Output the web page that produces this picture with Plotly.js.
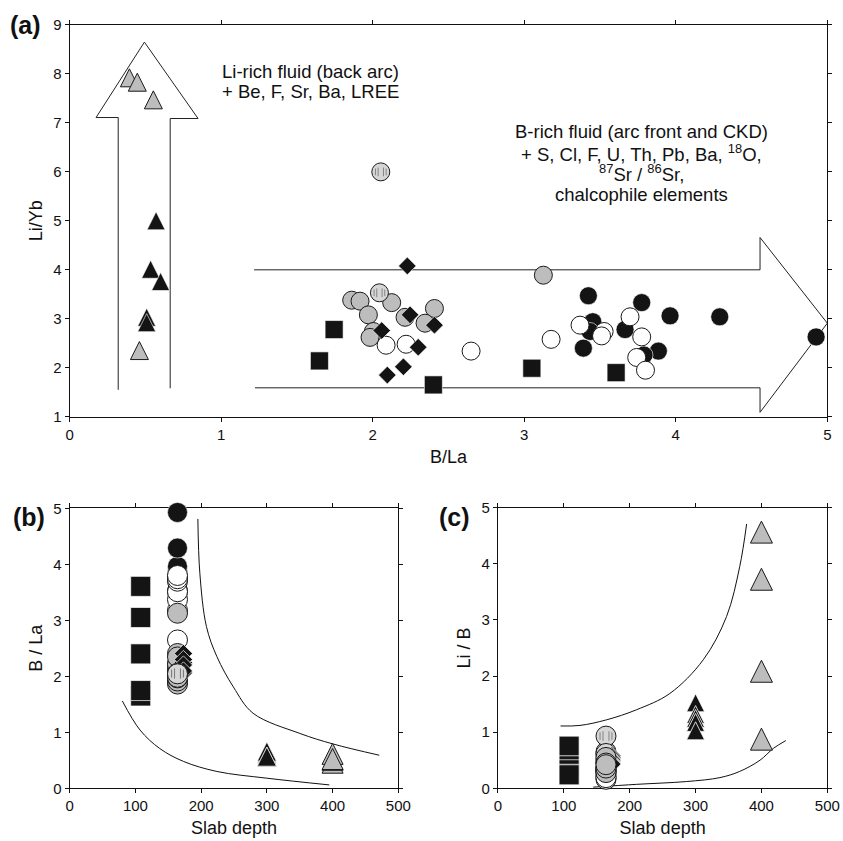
<!DOCTYPE html>
<html><head><meta charset="utf-8">
<script src="https://cdn.plot.ly/plotly-3.0.1.min.js"></script>
<style>html,body{margin:0;padding:0;background:#fff}#chart{width:843px;height:841px}</style>
</head><body><div id="chart"></div>
<script>
// ---------------- data ----------------
// squares
const sqBLa   = [1.648, 1.745, 2.40, 3.05, 3.606];
const sqLiYb  = [2.14, 2.78, 1.65, 1.99, 1.90];
const sqDepth = [108, 108, 108, 108, 108];
const sqLiB   = [0.75, 0.40, 0.33, 0.25, 0.24];
// black circles
const bcBLa   = [3.423, 3.452, 3.434, 3.39, 3.775, 3.665, 3.885, 3.962, 4.29, 4.926, 3.79];
const bcLiYb  = [3.47, 2.94, 2.74, 2.40, 3.33, 2.78, 2.34, 3.06, 3.04, 2.63, 2.26];
const bcDepth = [164, 164, 164, 164, 164, 164, 164, 164, 164, 164, 164];
const bcLiB   = [0.22, 0.25, 0.28, 0.30, 0.26, 0.33, 0.24, 0.29, 0.31, 0.27, 0.23];
// white circles
const wcBLa   = [2.088, 2.22, 2.649, 3.177, 3.368, 3.527, 3.51, 3.698, 3.775, 3.742, 3.80];
const wcLiYb  = [2.46, 2.48, 2.34, 2.58, 2.87, 2.74, 2.65, 3.04, 2.63, 2.21, 1.95];
const wcDepth = [164, 164, 164, 164, 164, 164, 164, 164, 164, 164, 164];
const wcLiB   = [0.16, 0.20, 0.24, 0.28, 0.32, 0.36, 0.45, 0.52, 0.60, 0.65, 0.19];
// grey circles
const gcBLa   = [1.861, 1.916, 1.971, 2.125, 2.213, 2.407, 2.345, 2.004, 1.982, 3.126];
const gcLiYb  = [3.38, 3.36, 3.08, 3.33, 3.03, 3.21, 2.91, 2.74, 2.62, 3.89];
const gcDepth = [164, 164, 164, 164, 164, 164, 164, 164, 164, 164];
const gcLiB   = [0.30, 0.35, 0.48, 0.55, 0.38, 0.32, 0.45, 0.28, 0.36, 0.42];
// hatched circles
const hcBLa   = [2.053, 2.044];
const hcLiYb  = [6.00, 3.53];
const hcDepth = [164, 164];
const hcLiB   = [0.93, 0.62];
// diamonds
const dmBLa   = [2.228, 2.246, 2.407, 2.059, 2.30, 2.202, 2.096];
const dmLiYb  = [4.08, 3.08, 2.87, 2.76, 2.42, 2.02, 1.85];
const dmDepth = [173, 173, 173, 173, 173, 173, 173];
const dmLiB   = [0.58, 0.55, 0.52, 0.50, 0.47, 0.45, 0.43];
// black triangles
const btBLa   = [0.57, 0.534, 0.60, 0.508, 0.508];
const btLiYb  = [4.94, 3.95, 3.70, 2.97, 2.86];
const btDepth = [300, 300, 300, 300, 300];
const btLiB   = [1.47, 1.26, 1.19, 1.12, 0.97];
// grey triangles
const gtBLa   = [0.394, 0.446, 0.552, 0.46];
const gtLiYb  = [7.86, 7.77, 7.41, 2.29];
const gtDepth = [400, 400, 400, 400];
const gtLiB   = [4.50, 3.66, 2.02, 0.81];

// arrows in panel (a)
const vArrowX = [0.32, 0.32, 0.174, 0.493, 0.847, 0.663, 0.663];
const vArrowY = [1.55, 7.11, 7.11, 8.65, 7.09, 7.09, 1.58];
const hArrowX = [1.217, 4.556, 4.556, 5.0, 4.556, 4.556, 1.223];
const hArrowY = [4.0, 4.0, 4.66, 2.91, 1.09, 1.59, 1.59];

// envelope curves
const bUpX = [195, 198, 208, 224, 249, 279, 350, 401, 471];
const bUpY = [4.81, 3.84, 2.89, 2.35, 1.81, 1.34, 0.98, 0.79, 0.59];
const bLoX = [80, 107, 137, 173, 224, 300, 395];
const bLoY = [1.56, 1.04, 0.71, 0.48, 0.30, 0.18, 0.06];
const cUpX = [95, 124.5, 165, 210.5, 261, 311.7, 347, 367, 377.5];
const cUpY = [1.11, 1.12, 1.22, 1.40, 1.69, 2.29, 3.06, 3.95, 4.71];
const cLoX = [144.7, 210.5, 286.5, 337, 367, 397.8, 418, 437];
const cLoY = [0.02, 0.07, 0.12, 0.19, 0.30, 0.50, 0.71, 0.85];

// ---------------- styles ----------------
const BLACK = '#141414', GREY = '#bdbdbd', EDGE = '#1a1a1a';
const traces = [];
function pts(x, y, xa, ya, symbol, size, fill, lineColor, lineW) {
  traces.push({type:'scatter', mode:'markers', x:x, y:y, xaxis:xa, yaxis:ya, cliponaxis:false,
    hoverinfo:'skip',
    marker:{symbol:symbol, size:size, color:fill, line:{color:lineColor, width:lineW}}});
}
function tri(x, y, xa, ya, size, fill, lineColor, lineW) {
  traces.push({type:'scatter', mode:'markers', x:x, y:y, xaxis:xa, yaxis:ya, cliponaxis:false,
    hoverinfo:'skip',
    marker:{symbol:'arrow-down', angle:180, standoff:size*2/3, size:size, color:fill,
            line:{color:lineColor, width:lineW}}});
}
function stripes(x, y, xa, ya, d) {
  // vertical hatching on the striped circles
  const specs = [[-d*0.33, d*0.97], [d*0.33, d*0.97], [-d*0.66, d*0.75], [d*0.66, d*0.75]];
  specs.forEach(function(s){
    traces.push({type:'scatter', mode:'markers', x:x, y:y, xaxis:xa, yaxis:ya, cliponaxis:false,
      hoverinfo:'skip',
      marker:{symbol:'line-ew', angle:(s[0] < 0 ? -90 : 90), standoff:Math.abs(s[0]) * 0.9,
              size:s[1]/1.4, color:'#7a7a7a', line:{color:'#7a7a7a', width:0.9}}});
  });
}
function curve(x, y, xa, ya) {
  traces.push({type:'scatter', mode:'lines', x:x, y:y, xaxis:xa, yaxis:ya, hoverinfo:'skip', cliponaxis:false,
    line:{color:'#111', width:1, shape:'spline', smoothing:1}});
}

// panel (a)
traces.push({type:'scatter', mode:'lines', x:vArrowX, y:vArrowY, xaxis:'x', yaxis:'y', hoverinfo:'skip', cliponaxis:false, line:{color:'#222', width:1}});
traces.push({type:'scatter', mode:'lines', x:hArrowX, y:hArrowY, xaxis:'x', yaxis:'y', hoverinfo:'skip', cliponaxis:false, line:{color:'#222', width:1}});
pts(bcBLa, bcLiYb, 'x', 'y', 'circle', 18, BLACK, '#ffffff', 0.6);
pts(wcBLa, wcLiYb, 'x', 'y', 'circle', 18, '#ffffff', EDGE, 1);
pts(gcBLa, gcLiYb, 'x', 'y', 'circle', 18, GREY, EDGE, 1);
pts(hcBLa, hcLiYb, 'x', 'y', 'circle', 18, '#d6d6d6', EDGE, 1);
stripes(hcBLa, hcLiYb, 'x', 'y', 9);
pts(dmBLa, dmLiYb, 'x', 'y', 'diamond', 13.5, BLACK, '#ffffff', 0.6);
pts(sqBLa, sqLiYb, 'x', 'y', 'square', 18, BLACK, '#ffffff', 0.6);
tri(btBLa, btLiYb, 'x', 'y', 18, BLACK, '#ffffff', 0.6);
tri(gtBLa, gtLiYb, 'x', 'y', 18, GREY, EDGE, 1);

// panel (b)
curve(bUpX, bUpY, 'x2', 'y2');
curve(bLoX, bLoY, 'x2', 'y2');
pts(sqDepth, sqBLa, 'x2', 'y2', 'square', 20, BLACK, '#ffffff', 0.7);
pts(bcDepth, bcBLa, 'x2', 'y2', 'circle', 20, BLACK, '#ffffff', 0.6);
pts(wcDepth, wcBLa, 'x2', 'y2', 'circle', 20, '#ffffff', EDGE, 1);
pts(gcDepth, gcBLa, 'x2', 'y2', 'circle', 20, GREY, EDGE, 1);
pts(dmDepth, dmBLa, 'x2', 'y2', 'diamond', 14, BLACK, '#ffffff', 0.7);
pts(hcDepth, hcBLa, 'x2', 'y2', 'circle', 20, '#d6d6d6', EDGE, 1);
stripes(hcDepth, hcBLa, 'x2', 'y2', 10);
tri(btDepth, btBLa, 'x2', 'y2', 19, BLACK, '#ffffff', 0.7);
tri(gtDepth, gtBLa, 'x2', 'y2', 21, GREY, EDGE, 1);

// panel (c)
curve(cUpX, cUpY, 'x3', 'y3');
curve(cLoX, cLoY, 'x3', 'y3');
pts(sqDepth, sqLiB, 'x3', 'y3', 'square', 20, BLACK, '#ffffff', 0.7);
pts(bcDepth, bcLiB, 'x3', 'y3', 'circle', 20, BLACK, '#ffffff', 0.6);
pts(wcDepth, wcLiB, 'x3', 'y3', 'circle', 20, '#ffffff', EDGE, 1);
pts(hcDepth, hcLiB, 'x3', 'y3', 'circle', 20, '#d6d6d6', EDGE, 1);
stripes(hcDepth, hcLiB, 'x3', 'y3', 10);
pts(dmDepth, dmLiB, 'x3', 'y3', 'diamond', 14, BLACK, '#ffffff', 0.8);
pts(gcDepth, gcLiB, 'x3', 'y3', 'circle', 20, GREY, EDGE, 1);
tri(btDepth, btLiB, 'x3', 'y3', 18, BLACK, '#ffffff', 0.8);
tri(gtDepth, gtLiB, 'x3', 'y3', 22, GREY, EDGE, 1);

// ---------------- layout ----------------
function ax(o) {
  const base = {showline:true, linecolor:'#111', linewidth:1, mirror:'ticks', ticks:'outside',
    ticklen:4, tickwidth:1, tickcolor:'#111', showgrid:false, zeroline:false,
    tickfont:{size:15, color:'#111'}, layer:'below traces', fixedrange:true};
  return Object.assign(base, o);
}
const TF = {size:18, color:'#111'};
const layout = {
  width:843, height:841, margin:{l:0, r:0, t:0, b:0}, showlegend:false,
  paper_bgcolor:'#ffffff', plot_bgcolor:'#ffffff',
  font:{family:'"Liberation Sans", Arial, Helvetica, sans-serif', color:'#111'},
  xaxis:  ax({domain:[0.0827, 0.9814], range:[0, 5], dtick:1, tick0:0, anchor:'y',
              title:{text:'B/La', font:TF, standoff:8}}),
  yaxis:  ax({domain:[0.5045, 0.9703], range:[1, 9], dtick:1, tick0:1, anchor:'x',
              title:{text:'Li/Yb', font:TF, standoff:6}}),
  xaxis2: ax({domain:[0.0827, 0.4725], range:[0, 500], dtick:100, tick0:0, anchor:'y2',
              title:{text:'Slab depth', font:TF, standoff:8}}),
  yaxis2: ax({domain:[0.0627, 0.3956], range:[0, 5], dtick:1, tick0:0, anchor:'x2',
              title:{text:'B / La', font:TF, standoff:6}}),
  xaxis3: ax({domain:[0.5907, 0.9814], range:[0, 500], dtick:100, tick0:0, anchor:'y3',
              title:{text:'Slab depth', font:TF, standoff:8}}),
  yaxis3: ax({domain:[0.0627, 0.3963], range:[0, 5], dtick:1, tick0:0, anchor:'x3',
              title:{text:'Li / B', font:TF, standoff:6}}),
  annotations: [
    {xref:'paper', yref:'paper', x:0.0306, y:0.9703, text:'<b>(a)</b>', showarrow:false, font:{size:25, color:'#111'}, xanchor:'center', yanchor:'middle'},
    {xref:'paper', yref:'paper', x:0.0342, y:0.3849, text:'<b>(b)</b>', showarrow:false, font:{size:25, color:'#111'}, xanchor:'center', yanchor:'middle'},
    {xref:'paper', yref:'paper', x:0.5386, y:0.3849, text:'<b>(c)</b>', showarrow:false, font:{size:25, color:'#111'}, xanchor:'center', yanchor:'middle'},
    {xref:'x', yref:'y', x:0.992, y:8.06, text:'Li-rich fluid (back arc)', showarrow:false, xanchor:'left', yanchor:'middle', font:{size:18.5, color:'#111'}},
    {xref:'x', yref:'y', x:0.992, y:7.64, text:'+ Be, F, Sr, Ba, LREE', showarrow:false, xanchor:'left', yanchor:'middle', font:{size:18.5, color:'#111'}},
    {xref:'x', yref:'y', x:3.773, y:6.82, text:'B-rich fluid (arc front and CKD)', showarrow:false, xanchor:'center', yanchor:'middle', font:{size:18.5, color:'#111'}},
    {xref:'x', yref:'y', x:3.773, y:6.38, text:'+ S, Cl, F, U, Th, Pb, Ba, <sup>18</sup>O,', showarrow:false, xanchor:'center', yanchor:'middle', font:{size:18.5, color:'#111'}},
    {xref:'x', yref:'y', x:3.773, y:5.97, text:'<sup>87</sup>Sr / <sup>86</sup>Sr,', showarrow:false, xanchor:'center', yanchor:'middle', font:{size:18.5, color:'#111'}},
    {xref:'x', yref:'y', x:3.773, y:5.53, text:'chalcophile elements', showarrow:false, xanchor:'center', yanchor:'middle', font:{size:18.5, color:'#111'}}
  ]
};
Plotly.newPlot('chart', traces, layout, {staticPlot:true, displayModeBar:false});
</script>
</body></html>
